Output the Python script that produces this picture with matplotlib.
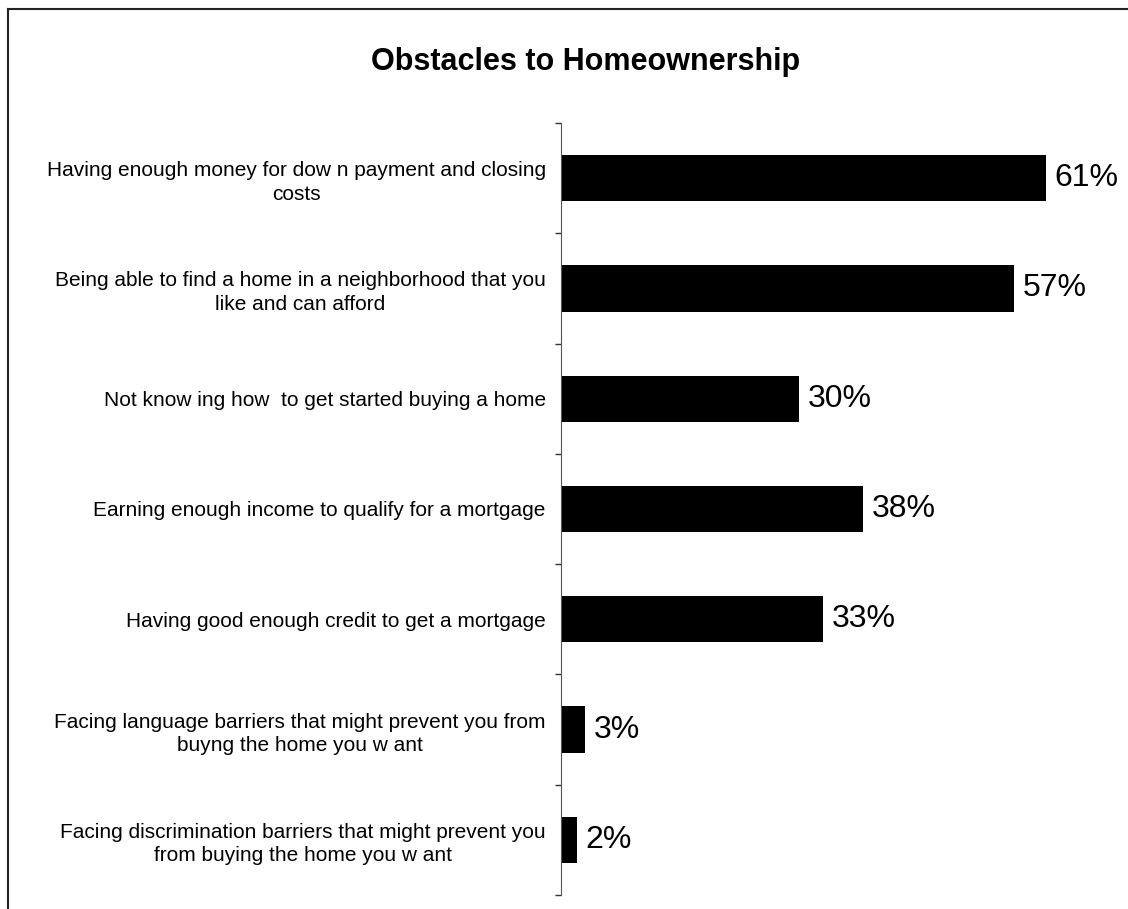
import numpy as np
import matplotlib.pyplot as plt
from matplotlib.lines import Line2D

plt.rcParams['font.family'] = ['Liberation Sans', 'DejaVu Sans']

labels = ['Having enough money for dow n payment and closing\ncosts',
          'Being able to find a home in a neighborhood that you\nlike and can afford',
          'Not know ing how  to get started buying a home',
          'Earning enough income to qualify for a mortgage',
          'Having good enough credit to get a mortgage',
          'Facing language barriers that might prevent you from\nbuyng the home you w ant',
          'Facing discrimination barriers that might prevent you\nfrom buying the home you w ant']
values = [61, 57, 30, 38, 33, 3, 2]

fig = plt.figure(figsize=(11.28, 9.09), dpi=100)
ax = fig.add_axes([561/1128, 1-895/909, 556/1128, 772/909])

ypos = np.arange(len(values))
ax.barh(ypos, values, height=0.42, color='black')
for y, v in zip(ypos, values):
    ax.text(v + 1.1, y, '%d%%' % v, va='center', ha='left', fontsize=23)

ax.set_xlim(0, 70)
ax.set_ylim(len(values) - 0.5, -0.5)
ax.set_yticks(ypos)
ax.set_yticklabels(labels, fontsize=15, ma='center', linespacing=1.3)
ax.set_yticks(np.arange(len(values) + 1) - 0.5, minor=True)
ax.tick_params(axis='y', which='major', length=0, pad=11)
ax.tick_params(axis='y', which='minor', length=4.5, width=1, color='#333333')
ax.set_xticks([])
for s in ['top', 'right', 'bottom']:
    ax.spines[s].set_visible(False)
ax.spines['left'].set_color('#555555')

fig.text(586/1128, 1-62/909, 'Obstacles to Homeownership', ha='center', va='center',
         fontsize=22, fontweight='bold')

# frame around chart area (only top/left visible)
fig.add_artist(Line2D([8/1128, 8/1128], [0, 1-9/909], color='#222222', lw=1.5))
fig.add_artist(Line2D([8/1128, 1], [1-9/909, 1-9/909], color='#222222', lw=1.5))

plt.savefig('out.png', dpi=100)
